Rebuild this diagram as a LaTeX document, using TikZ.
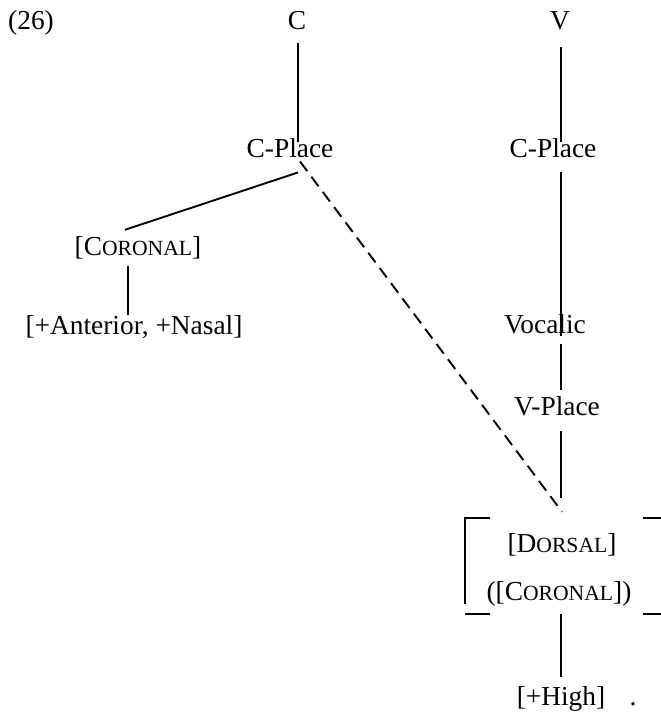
\documentclass[tikz,border=0pt]{standalone}
\usepackage{fontspec}
\setmainfont{Liberation Serif}
\newcommand{\fsc}[2]{#1{\fontsize{21.7pt}{26pt}\selectfont #2}}
\tikzset{
	lbl/.style={anchor=base,inner sep=0pt,font=\fontsize{27.5pt}{33pt}\selectfont},
	branch/.style={line width=1.9bp},
	dashbranch/.style={branch,dash pattern=on 12bp off 7bp}
}
\begin{document}
\begin{tikzpicture}[x=1bp,y=-1bp]
	\useasboundingbox (0,0) rectangle (661,713);

	\node[lbl] (num)  at ( 31, 30) {(26)};
	\node[lbl] (C)    at (297, 30) {C};
	\node[lbl] (V)    at (560, 30) {V};
	\node[lbl] (cplA) at (290,157) {C-Place};
	\node[lbl] (cplB) at (553,157) {C-Place};
	\node[lbl] (corA) at (138,255) {[\fsc{C}{ORONAL}]};
	\node[lbl] (ant)  at (134,334) {[+Anterior, +Nasal]};
	\node[lbl] (voc)  at (545,333) {Vocalic};
	\node[lbl] (vpl)  at (557,415) {V-Place};
	\node[lbl] (dor)  at (562,552) {[\fsc{D}{ORSAL}]};
	\node[lbl] (corB) at (559,600) {([\fsc{C}{ORONAL}])};
	\node[lbl] (high) at (561,705) {[+High]};
	\node[lbl] (dot)  at (633,705) {.};

	\draw[branch] ([shift={(1,13)}]C.south) -- ([shift={(8,4)}]cplA.north);
	\draw[branch] ([shift={(8,15)}]cplA.south) -- ([shift={(-13,-6)}]corA.north);
	\draw[branch] ([shift={(-10,7)}]corA.south) -- ([shift={(-6,0)}]ant.north);
	\draw[dashbranch] ([shift={(10,4)}]cplA.south) -- ([shift={(0,-21)}]dor.north);

	\draw[branch] ([shift={(1,16)}]V.south) -- ([shift={(8,4)}]cplB.north);
	\draw[branch] ([shift={(8,15)}]cplB.south) -- ([shift={(16,2)}]voc.south);
	\draw[branch] ([shift={(16,10)}]voc.south) -- ([shift={(4,-6)}]vpl.north);
	\draw[branch] ([shift={(4,15)}]vpl.south) -- ([shift={(-1,-35)}]dor.north);
	\draw[branch] ([shift={(2,8)}]corB.south) -- ([shift={(0,-9)}]high.north);

	% bracket
	\draw[branch] (490,518) -- (465,518) -- (465,604);
	\draw[branch] (465,614) -- (490,614);
	\draw[branch] (643,518) -- (661,518);
	\draw[branch] (643,614) -- (661,614);
\end{tikzpicture}
\end{document}
